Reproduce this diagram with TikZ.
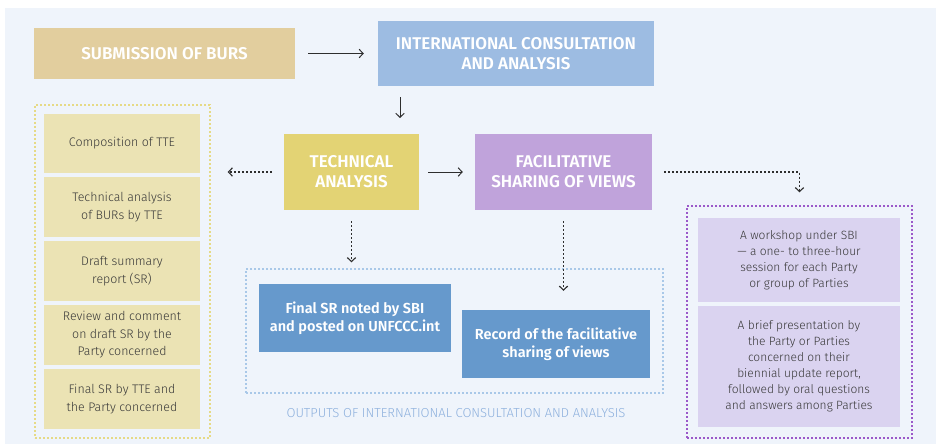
\documentclass[tikz,border=0pt]{standalone}
\usepackage{fontspec}
\setmainfont{Fira Sans}[BoldFont={Fira Sans SemiBold}]
\newfontfamily\firalight{Fira Sans Light}[Ligatures=TeX]
\usetikzlibrary{arrows.meta}
\definecolor{bgc}{HTML}{EFF4FB}
\definecolor{subc}{HTML}{E2CE9E}
\definecolor{icac}{HTML}{9DBCE2}
\definecolor{lboxc}{HTML}{EBE3B4}
\definecolor{lborder}{HTML}{E6DA86}
\definecolor{tac}{HTML}{E3D374}
\definecolor{fsvc}{HTML}{C0A3DB}
\definecolor{bluec}{HTML}{6699CC}
\definecolor{oborder}{HTML}{A9C8E8}
\definecolor{capc}{HTML}{8DB0DD}
\definecolor{rborder}{HTML}{9B59C9}
\definecolor{rboxc}{HTML}{DAD3F0}
\definecolor{txtc}{HTML}{383838}
\definecolor{arrc}{HTML}{2E2E2E}
\tikzset{
  head/.style={fill=#1, draw=none, inner sep=0pt, align=center, text=white,
    font=\fontsize{17}{20}\selectfont\bfseries},
  small/.style={fill=#1, draw=none, inner sep=0pt, align=center, text=txtc,
    font=\firalight\fontsize{12.4}{17.5}\selectfont},
  outbox/.style={fill=bluec, draw=none, inner sep=0pt, align=center, text=white,
    font=\fontsize{14.5}{18}\selectfont\bfseries},
  frame/.style={draw=#1, line width=1.4pt, dash pattern=on 1.6pt off 2.4pt, fill=none, inner sep=0pt},
  solidarr/.style={draw=arrc, line width=1pt, -{Straight Barb[length=4pt,width=8.5pt]}},
  dotarr/.style={draw=arrc, line width=1.1pt, dash pattern=on 2pt off 2pt, -{Straight Barb[length=4pt,width=8.5pt]}},
}
\begin{document}
\begin{tikzpicture}[x=1pt,y=-1pt]
\useasboundingbox (0,0) rectangle (936,444);
\fill[bgc] (5,8) rectangle (936,444);
% top row
\node[head=subc, minimum width=261pt, minimum height=51pt] (sub) at (164.5,53.5) {SUBMISSION OF BURS};
\node[head=icac, minimum width=276pt, minimum height=65pt] (ica) at (516,53.5) {INTERNATIONAL CONSULTATION\\AND ANALYSIS};
% left column
\node[frame=lborder, minimum width=175pt, minimum height=333pt] (lframe) at (122.5,271.5) {};
\node[small=lboxc, minimum width=156pt, minimum height=59pt] (l1) at (122,143.5) {Composition of TTE};
\node[small=lboxc, minimum width=156pt, minimum height=60pt] (l2) at (122,207) {Technical analysis\\of BURs by TTE};
\node[small=lboxc, minimum width=156pt, minimum height=60pt] (l3) at (122,271) {Draft summary\\report (SR)};
\node[small=lboxc, minimum width=156pt, minimum height=60pt] (l4) at (122,335) {Review and comment\\on draft SR by the\\Party concerned};
\node[small=lboxc, minimum width=156pt, minimum height=60pt] (l5) at (122,399) {Final SR by TTE and\\the Party concerned};
% middle row
\node[head=tac, minimum width=135pt, minimum height=76pt] (ta) at (351.5,172) {TECHNICAL\\ANALYSIS};
\node[head=fsvc, minimum width=177pt, minimum height=76pt] (fsv) at (563.5,172) {FACILITATIVE\\SHARING OF VIEWS};
% outputs
\node[frame=oborder, minimum width=417pt, minimum height=124pt] (oframe) at (454.5,331) {};
\node[outbox, minimum width=192pt, minimum height=68pt] (fsr) at (355,318) {Final SR noted by SBI\\and posted on UNFCCC.int};
\node[outbox, minimum width=188pt, minimum height=68pt] (rec) at (556,344) {Record of the facilitative\\sharing of views};
\node[text=capc, inner sep=0pt, font=\firalight\fontsize{13}{15}\selectfont] (cap) at (456,413) {OUTPUTS OF INTERNATIONAL CONSULTATION AND ANALYSIS};
% right column
\node[frame=rborder, minimum width=225pt, minimum height=232pt] (rframe) at (799.5,322) {};
\node[small=rboxc, minimum width=202pt, minimum height=84pt, font=\firalight\fontsize{12}{16}\selectfont] (r1) at (799,260) {A workshop under SBI\\— a one- to three-hour\\session for each Party\\or group of Parties};
\node[small=rboxc, minimum width=202pt, minimum height=121pt, font=\firalight\fontsize{12}{16}\selectfont] (r2) at (799,366.5) {A brief presentation by\\the Party or Parties\\concerned on their\\biennial update report,\\followed by oral questions\\and answers among Parties};
% connectors
\coordinate (icaend) at (400,118);
\draw[solidarr, shorten <=13pt, shorten >=14pt] (sub) -- (ica);
\draw[solidarr] (ica.south -| icaend) ++(0,11) -- (icaend);
\draw[dotarr, shorten <=12pt, shorten >=17pt] (ta.west) -- (lframe.east |- ta.west);
\draw[solidarr, shorten <=9pt, shorten >=12pt] (ta) -- (fsv);
\draw[dotarr, shorten <=12pt, shorten >=13pt] (fsv.east) -| (rframe.north);
\draw[dotarr, shorten <=11pt, shorten >=6pt] (ta.south) -- (ta.south |- oframe.north);
\draw[dotarr, shorten <=11pt, shorten >=19pt] (fsv.south) -- (fsv.south |- rec.north);
\end{tikzpicture}
\end{document}
